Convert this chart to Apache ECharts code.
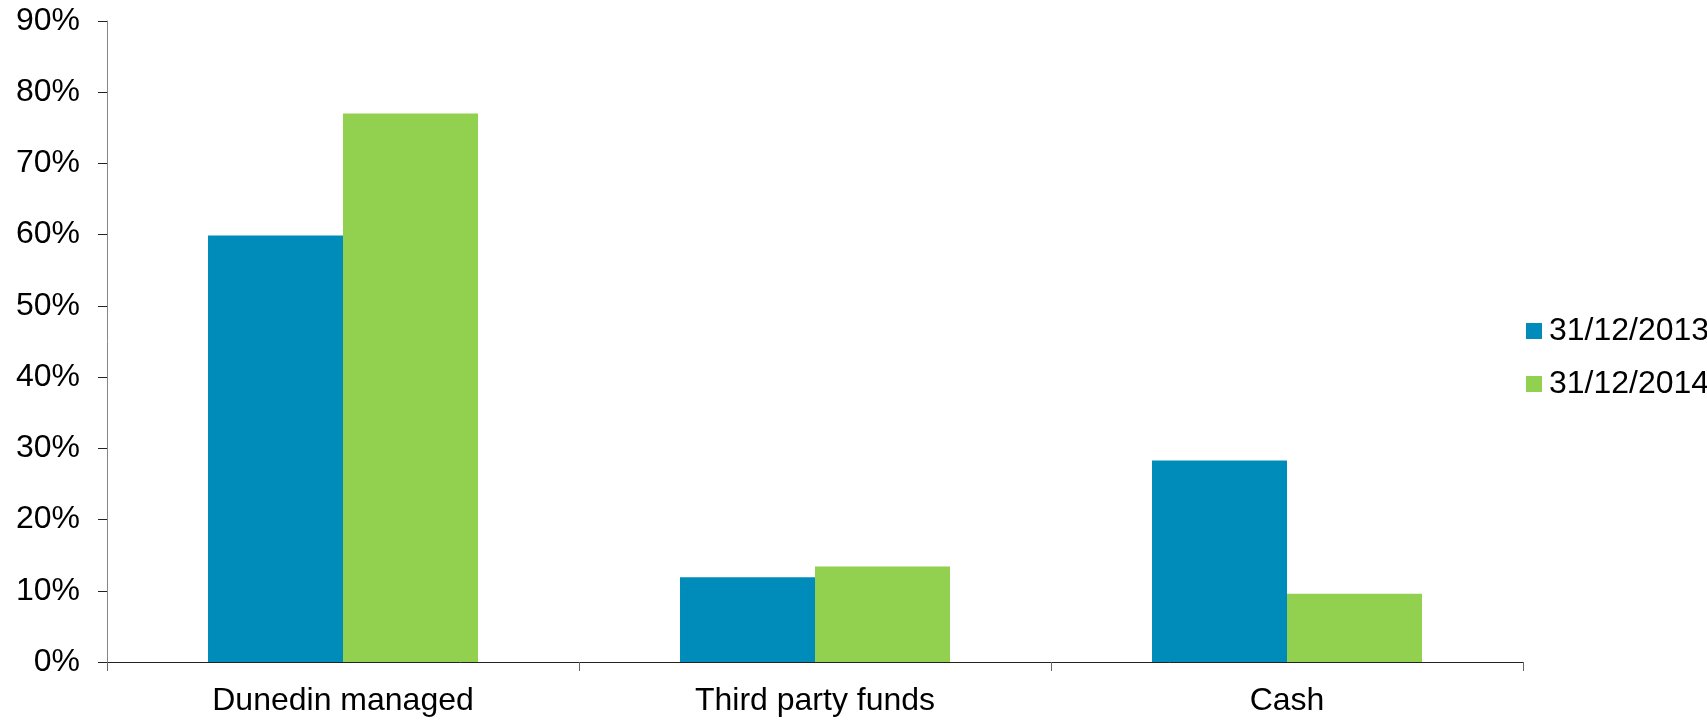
<!DOCTYPE html>
<html>
<head>
<meta charset="utf-8">
<script src="https://cdn.jsdelivr.net/npm/echarts@6/dist/echarts.min.js"></script>
<style>
html,body{margin:0;padding:0;background:#fff;}
#chart{width:1707px;height:721px;}
</style>
</head>
<body>
<div id="chart"></div>
<script>
const categories = ['Dunedin managed', 'Third party funds', 'Cash'];
const seriesNames = ['31/12/2013', '31/12/2014'];
const values2013 = [59.9, 11.9, 28.3];
const values2014 = [77.0, 13.4, 9.6];
const colors = ['#008CBA', '#92D050'];
const font = '"Liberation Sans", Arial, sans-serif';

const chart = echarts.init(document.getElementById('chart'));
chart.setOption({
  animation: false,
  backgroundColor: '#ffffff',
  textStyle: { fontFamily: font },
  grid: { left: 107, right: 184, top: 21, bottom: 59, containLabel: false },
  legend: {
    orient: 'vertical',
    left: 1526,
    top: 315,
    padding: 0,
    itemWidth: 16,
    itemHeight: 16,
    itemGap: 21,
    icon: 'rect',
    textStyle: { fontSize: 32, color: '#000', fontFamily: font, padding: [0, 0, 0, 2] },
    data: seriesNames
  },
  xAxis: {
    type: 'category',
    data: categories,
    axisLine: { lineStyle: { color: '#222', width: 1 } },
    axisTick: { show: true, length: 9, lineStyle: { color: '#666' } },
    axisLabel: { fontSize: 32, color: '#000', margin: 23, fontFamily: font }
  },
  yAxis: {
    type: 'value',
    min: 0,
    max: 90,
    interval: 10,
    splitLine: { show: false },
    axisLine: { show: true, lineStyle: { color: '#868686', width: 1 } },
    axisTick: { show: true, length: 9, lineStyle: { color: '#222' } },
    axisLabel: { fontSize: 32, color: '#000', margin: 27, formatter: '{value}%', fontFamily: font, padding: [6, 0, 0, 0] }
  },
  series: [
    {
      name: seriesNames[0], type: 'bar', data: values2013,
      barGap: '0%', barCategoryGap: '42.8%',
      itemStyle: { color: colors[0] }
    },
    {
      name: seriesNames[1], type: 'bar', data: values2014,
      barGap: '0%', barCategoryGap: '42.8%',
      itemStyle: { color: colors[1] }
    }
  ]
});
</script>
</body>
</html>
